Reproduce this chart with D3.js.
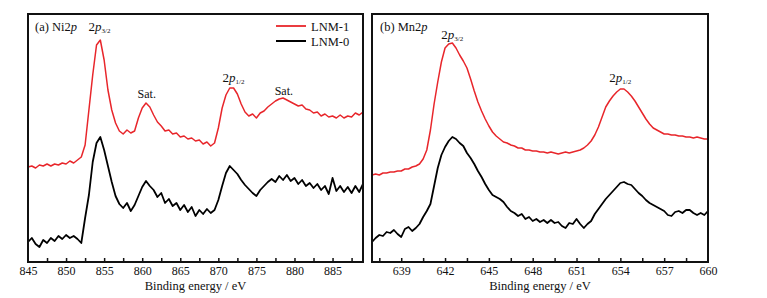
<!DOCTYPE html>
<html>
<head>
<meta charset="utf-8">
<script src="https://cdn.jsdelivr.net/npm/d3@7"></script>
<style>
  body { margin: 0; background: #fff; }
  svg text { font-family: "Liberation Serif", "Times New Roman", serif !important; fill: #111; }
</style>
</head>
<body>
<div id="chart"></div>
<script>
// Energy grids (eV): start, step
const niStart = 845, niStep = 0.5;
const mnStart = 637, mnStep = 0.25;

// Ni2p intensities (a.u., offset stacked as in the figure)
const niLNM1 = [95, 96, 94, 97, 96, 98, 96, 98, 97, 99, 98, 101, 99, 102, 105, 117, 152, 187, 217, 222,
  202, 172, 152, 139, 131, 128, 132, 129, 131, 144, 154, 159, 155, 147, 140, 136, 131, 132, 128, 129,
  125, 126, 123, 124, 121, 122, 118, 120, 116, 119, 134, 154, 167, 174, 174, 168, 158, 150, 146, 148,
  144, 149, 151, 155, 158, 161, 163, 164, 162, 160, 158, 156, 157, 153, 152, 149, 150, 146, 148, 145,
  146, 144, 147, 144, 146, 145, 149, 147, 150];
const niLNM0 = [20, 24, 18, 15, 22, 19, 24, 21, 26, 23, 27, 24, 26, 23, 19, 44, 67, 100, 119, 125,
  112, 96, 80, 66, 58, 54, 59, 51, 57, 66, 75, 81, 76, 72, 65, 69, 59, 63, 56, 59,
  52, 57, 50, 55, 46, 52, 48, 53, 49, 52, 62, 76, 89, 96, 92, 88, 82, 77, 73, 69,
  66, 72, 76, 80, 83, 80, 86, 82, 87, 81, 84, 78, 82, 76, 79, 74, 78, 72, 76, 68,
  84, 71, 76, 70, 75, 69, 76, 70, 78];

// Mn2p intensities
const mnLNM1 = [87, 88, 87, 89, 89, 90, 90, 91, 91, 93, 93, 95, 96, 98, 103, 112, 132, 158, 180, 200,
  214, 218, 219, 214, 207, 201, 194, 183, 171, 160, 151, 143, 136, 130, 126, 123, 120, 119, 117, 116,
  114, 114, 112, 112, 111, 111, 110, 110, 109, 110, 109, 108, 109, 110, 109, 110, 111, 112, 114, 117,
  121, 127, 135, 145, 155, 161, 166, 170, 173, 173, 170, 166, 161, 155, 149, 143, 138, 134, 132, 130,
  128, 128, 127, 127, 126, 126, 125, 125, 124, 125, 124, 123, 123];
const mnLNM0 = [20, 24, 27, 26, 30, 29, 32, 28, 25, 33, 35, 31, 34, 38, 45, 51, 58, 76, 94, 107,
  115, 121, 125, 123, 119, 116, 109, 104, 98, 91, 85, 78, 72, 67, 65, 63, 60, 55, 51, 49,
  46, 48, 43, 45, 41, 43, 40, 42, 39, 42, 39, 40, 36, 34, 39, 38, 43, 38, 34, 38,
  41, 48, 53, 58, 63, 67, 71, 75, 79, 80, 78, 77, 73, 69, 66, 62, 59, 57, 55, 53,
  51, 47, 46, 50, 51, 49, 52, 52, 49, 47, 49, 47, 51];

const niTicks = [845, 850, 855, 860, 865, 870, 875, 880, 885];
const mnTicks = [639, 642, 645, 648, 651, 654, 657, 660];

const W = 767, H = 298;
const plotTop = 14, plotBottom = 262;
const serif = "'Liberation Serif', 'Times New Roman', serif";
const panels = [
  { left: 28, right: 363, domain: [845, 889], ticks: niTicks, minorStep: 2.5,
    start: niStart, step: niStep, red: niLNM1, black: niLNM0 },
  { left: 372, right: 708, domain: [637, 660], ticks: mnTicks, minorStep: 1.5,
    start: mnStart, step: mnStep, red: mnLNM1, black: mnLNM0 }
];

const svg = d3.select("#chart").append("svg")
  .attr("width", W).attr("height", H)
  .style("font-family", serif);

const y = d3.scaleLinear().domain([0, 248]).range([plotBottom, plotTop]);

panels.forEach((p, i) => {
  const x = d3.scaleLinear().domain(p.domain).range([p.left, p.right]);
  p.x = x;

  const minor = d3.range(Math.ceil(p.domain[0] / p.minorStep) * p.minorStep, p.domain[1] + 0.001, p.minorStep)
    .filter(v => v > p.domain[0] && v < p.domain[1]);

  // ticks pointing inward
  svg.append("g")
    .attr("transform", `translate(0,${plotBottom})`)
    .call(d3.axisBottom(x).tickValues(minor).tickSize(-4).tickFormat(""))
    .call(g => g.select(".domain").remove())
    .call(g => g.selectAll("line").attr("stroke", "#111").attr("stroke-width", 1.5));

  svg.append("g")
    .attr("transform", `translate(0,${plotBottom})`)
    .call(d3.axisBottom(x).tickValues(p.ticks).tickSizeInner(0).tickSizeOuter(0).tickPadding(4))
    .attr("font-family", null)
    .call(g => g.select(".domain").remove())
    .call(g => g.selectAll("line").remove())
    .call(g => g.selectAll("text").attr("font-size", "12px").attr("fill", "#111"));

  svg.append("text")
    .attr("x", (p.left + p.right) / 2).attr("y", 290)
    .attr("text-anchor", "middle").attr("font-size", "12.5px")
    .text("Binding energy / eV");

  const line = d3.line()
    .x((d, j) => x(p.start + j * p.step))
    .y(d => y(d));

  const clipId = "clip" + i;
  svg.append("clipPath").attr("id", clipId)
    .append("rect").attr("x", p.left).attr("y", plotTop)
    .attr("width", p.right - p.left).attr("height", plotBottom - plotTop);

  svg.append("path").datum(p.black)
    .attr("clip-path", `url(#${clipId})`)
    .attr("fill", "none").attr("stroke", "#000").attr("stroke-width", 1.8)
    .attr("stroke-linejoin", "round").attr("d", line);

  svg.append("path").datum(p.red)
    .attr("clip-path", `url(#${clipId})`)
    .attr("fill", "none").attr("stroke", "#e8262b").attr("stroke-width", 1.5)
    .attr("stroke-linejoin", "round").attr("d", line);

  svg.append("rect")
    .attr("x", p.left).attr("y", plotTop)
    .attr("width", p.right - p.left).attr("height", plotBottom - plotTop)
    .attr("fill", "none").attr("stroke", "#111").attr("stroke-width", 2);
});

// peak label with italic p and subscript
function peakLabel(px, py, sub) {
  const t = svg.append("text").attr("x", px).attr("y", py)
    .attr("text-anchor", "middle").attr("font-size", "13px");
  t.append("tspan").text("2");
  t.append("tspan").attr("font-style", "italic").text("p");
  t.append("tspan").attr("font-size", "7px").attr("dy", 2).text(sub);
}

function plainLabel(px, py, txt) {
  svg.append("text").attr("x", px).attr("y", py)
    .attr("text-anchor", "middle").attr("font-size", "12px").text(txt);
}

function panelTitle(px, py, pre, el) {
  const t = svg.append("text").attr("x", px).attr("y", py).attr("font-size", "12.5px");
  t.append("tspan").text(pre + " " + el + "2");
  t.append("tspan").attr("font-style", "italic").text("p");
}

const ni = panels[0].x, mn = panels[1].x;
panelTitle(35, 31, "(a)", "Ni");
panelTitle(380, 31, "(b)", "Mn");
peakLabel(ni(854.4), 31, "3/2");
plainLabel(ni(860.6), 98, "Sat.");
peakLabel(ni(872), 82, "1/2");
plainLabel(ni(878.6), 95, "Sat.");
peakLabel(mn(642.5), 39, "3/2");
peakLabel(mn(654), 82, "1/2");

// legend
const legend = [
  { name: "LNM-1", color: "#e8262b", w: 1.8 },
  { name: "LNM-0", color: "#000", w: 2 }
];
legend.forEach((d, i) => {
  const ly = 26 + i * 15;
  svg.append("line").attr("x1", 276).attr("x2", 306).attr("y1", ly).attr("y2", ly)
    .attr("stroke", d.color).attr("stroke-width", d.w);
  svg.append("text").attr("x", 311).attr("y", ly + 4.5).attr("font-size", "12.5px").text(d.name);
});
</script>
</body>
</html>
